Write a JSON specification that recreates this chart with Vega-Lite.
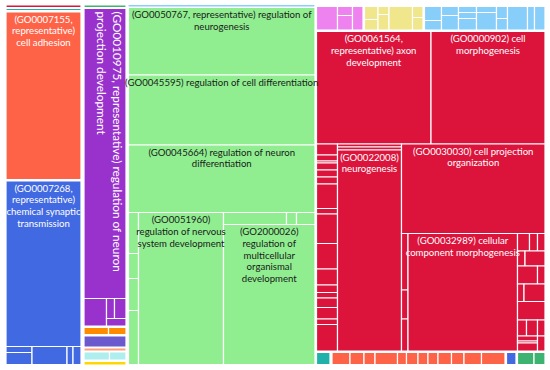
{
"$schema":"https://vega.github.io/schema/vega-lite/v6.json",
"width":550,"height":370,"padding":0,"autosize":"none",
"config":{"view":{"stroke":null}},
"data":{"values":[
{"c":"E","x0":6,"x1":81,"y0":5,"y1":7.5,"label":""},
{"c":"N","x0":6,"x1":81,"y0":8.5,"y1":10.5,"label":""},
{"c":"A","id":"GO0007155","x0":6,"x1":81,"y0":12,"y1":179.5,"label":"(GO0007155,\nrepresentative)\ncell adhesion"},
{"c":"B","id":"GO0007268","x0":6,"x1":81,"y0":181,"y1":346.5,"label":"(GO0007268,\nrepresentative)\nchemical synaptic\ntransmission"},
{"c":"B","x0":6,"x1":32,"y0":346.5,"y1":352.5,"label":""},
{"c":"B","x0":6,"x1":32,"y0":352.5,"y1":364.5,"label":""},
{"c":"B","x0":32,"x1":67,"y0":346.5,"y1":364.5,"label":""},
{"c":"B","x0":67,"x1":73,"y0":346.5,"y1":364.5,"label":""},
{"c":"B","x0":73,"x1":81,"y0":346.5,"y1":364.5,"label":""},
{"c":"O","x0":84,"x1":126,"y0":5,"y1":7.5,"label":""},
{"c":"C","id":"GO0010975","x0":84,"x1":126,"y0":8.5,"y1":298.5,"label":""},
{"c":"C","x0":84,"x1":106.5,"y0":298.5,"y1":326,"label":""},
{"c":"C","x0":106.5,"x1":114.5,"y0":298.5,"y1":318.5,"label":""},
{"c":"C","x0":114.5,"x1":126,"y0":298.5,"y1":318.5,"label":""},
{"c":"C","x0":106.5,"x1":126,"y0":318.5,"y1":326,"label":""},
{"c":"I","x0":84,"x1":108.5,"y0":327.5,"y1":334.5,"label":""},
{"c":"I","x0":108.5,"x1":126,"y0":327.5,"y1":334.5,"label":""},
{"c":"J","x0":84,"x1":126,"y0":336,"y1":347,"label":""},
{"c":"K","x0":84,"x1":126,"y0":348,"y1":351,"label":""},
{"c":"L","x0":84,"x1":109.5,"y0":352,"y1":360,"label":""},
{"c":"L","x0":109.5,"x1":126,"y0":352,"y1":360,"label":""},
{"c":"M","x0":84,"x1":126,"y0":361.5,"y1":365,"label":""},
{"c":"H","x0":128,"x1":315,"y0":4.5,"y1":7,"label":""},
{"c":"D","id":"GO0050767","x0":128.5,"x1":315,"y0":7.5,"y1":75,"label":"(GO0050767, representative) regulation of\nneurogenesis"},
{"c":"D","id":"GO0045595","x0":128.5,"x1":315,"y0":75,"y1":145,"label":"(GO0045595) regulation of cell differentiation"},
{"c":"D","id":"GO0045664","x0":128.5,"x1":315,"y0":145,"y1":212.5,"label":"(GO0045664) regulation of neuron\ndifferentiation"},
{"c":"D","x0":128.5,"x1":138.5,"y0":212.5,"y1":253.5,"label":""},
{"c":"D","x0":128.5,"x1":138.5,"y0":253.5,"y1":278.5,"label":""},
{"c":"D","x0":128.5,"x1":138.5,"y0":278.5,"y1":310.5,"label":""},
{"c":"D","x0":128.5,"x1":138.5,"y0":310.5,"y1":364.5,"label":""},
{"c":"D","id":"GO0051960","x0":138.5,"x1":223.5,"y0":212.5,"y1":364.5,"label":"(GO0051960)\nregulation of nervous\nsystem development"},
{"c":"D","x0":223.5,"x1":286.5,"y0":212.5,"y1":224.5,"label":""},
{"c":"D","x0":286.5,"x1":296.5,"y0":212.5,"y1":224.5,"label":""},
{"c":"D","x0":296.5,"x1":315,"y0":212.5,"y1":224.5,"label":""},
{"c":"D","id":"GO2000026","x0":223.5,"x1":315,"y0":224.5,"y1":364.5,"label":"(GO2000026)\nregulation of\nmulticellular\norganismal\ndevelopment"},
{"c":"F","x0":316.5,"x1":337.5,"y0":6.5,"y1":30,"label":""},
{"c":"F","x0":337.5,"x1":352.5,"y0":6.5,"y1":15.5,"label":""},
{"c":"F","x0":337.5,"x1":352.5,"y0":15.5,"y1":30,"label":""},
{"c":"F","x0":352.5,"x1":363,"y0":6.5,"y1":30,"label":""},
{"c":"G","x0":364.5,"x1":378,"y0":6.5,"y1":19.5,"label":""},
{"c":"G","x0":364.5,"x1":378,"y0":19.5,"y1":30,"label":""},
{"c":"G","x0":378,"x1":389,"y0":6.5,"y1":14.5,"label":""},
{"c":"G","x0":378,"x1":389,"y0":14.5,"y1":30,"label":""},
{"c":"G","x0":389,"x1":412.5,"y0":6.5,"y1":30,"label":""},
{"c":"G","x0":412.5,"x1":423,"y0":6.5,"y1":17.5,"label":""},
{"c":"G","x0":412.5,"x1":423,"y0":17.5,"y1":30,"label":""},
{"c":"H","x0":424.5,"x1":441.5,"y0":6.5,"y1":20.5,"label":""},
{"c":"H","x0":424.5,"x1":441.5,"y0":20.5,"y1":30,"label":""},
{"c":"H","x0":441.5,"x1":458.5,"y0":6.5,"y1":15.5,"label":""},
{"c":"H","x0":441.5,"x1":458.5,"y0":15.5,"y1":30,"label":""},
{"c":"H","x0":458.5,"x1":476.5,"y0":6.5,"y1":12.5,"label":""},
{"c":"H","x0":458.5,"x1":476.5,"y0":12.5,"y1":18.5,"label":""},
{"c":"H","x0":458.5,"x1":476.5,"y0":18.5,"y1":30,"label":""},
{"c":"H","x0":476.5,"x1":496.5,"y0":6.5,"y1":12.5,"label":""},
{"c":"H","x0":476.5,"x1":496.5,"y0":12.5,"y1":30,"label":""},
{"c":"H","x0":496.5,"x1":507.5,"y0":6.5,"y1":18.5,"label":""},
{"c":"H","x0":496.5,"x1":507.5,"y0":18.5,"y1":30,"label":""},
{"c":"H","x0":507.5,"x1":527.5,"y0":6.5,"y1":30,"label":""},
{"c":"H","x0":527.5,"x1":534.5,"y0":6.5,"y1":30,"label":""},
{"c":"H","x0":534.5,"x1":545,"y0":6.5,"y1":30,"label":""},
{"c":"E","id":"GO0061564","x0":316.5,"x1":431,"y0":31.5,"y1":144,"label":"(GO0061564,\nrepresentative) axon\ndevelopment"},
{"c":"E","id":"GO0000902","x0":431,"x1":545,"y0":31.5,"y1":144,"label":"(GO0000902) cell\nmorphogenesis"},
{"c":"E","x0":316.5,"x1":337.5,"y0":144,"y1":155,"label":""},
{"c":"E","x0":316.5,"x1":337.5,"y0":155,"y1":161,"label":""},
{"c":"E","x0":316.5,"x1":337.5,"y0":161,"y1":163,"label":""},
{"c":"E","x0":316.5,"x1":337.5,"y0":163,"y1":170,"label":""},
{"c":"E","x0":316.5,"x1":337.5,"y0":170,"y1":177,"label":""},
{"c":"E","x0":316.5,"x1":337.5,"y0":177,"y1":184,"label":""},
{"c":"E","x0":316.5,"x1":337.5,"y0":184,"y1":208.5,"label":""},
{"c":"E","x0":316.5,"x1":337.5,"y0":208.5,"y1":214,"label":""},
{"c":"E","x0":316.5,"x1":337.5,"y0":214,"y1":243.5,"label":""},
{"c":"E","x0":316.5,"x1":337.5,"y0":243.5,"y1":269,"label":""},
{"c":"E","x0":316.5,"x1":337.5,"y0":269,"y1":285,"label":""},
{"c":"E","x0":316.5,"x1":337.5,"y0":285,"y1":292.5,"label":""},
{"c":"E","x0":316.5,"x1":337.5,"y0":292.5,"y1":298,"label":""},
{"c":"E","x0":316.5,"x1":337.5,"y0":298,"y1":307.5,"label":""},
{"c":"E","x0":316.5,"x1":337.5,"y0":307.5,"y1":319,"label":""},
{"c":"E","x0":316.5,"x1":337.5,"y0":319,"y1":324.5,"label":""},
{"c":"E","x0":316.5,"x1":337.5,"y0":324.5,"y1":351,"label":""},
{"c":"E","x0":337.5,"x1":401.5,"y0":144,"y1":147,"label":""},
{"c":"E","x0":337.5,"x1":401.5,"y0":147,"y1":150,"label":""},
{"c":"E","id":"GO0022008","x0":337.5,"x1":401.5,"y0":150,"y1":351,"label":"(GO0022008)\nneurogenesis"},
{"c":"E","id":"GO0030030","x0":401.5,"x1":545,"y0":144,"y1":233.5,"label":"(GO0030030) cell projection\norganization"},
{"c":"E","x0":401.5,"x1":408,"y0":233.5,"y1":290,"label":""},
{"c":"E","x0":401.5,"x1":408,"y0":290,"y1":319,"label":""},
{"c":"E","x0":401.5,"x1":408,"y0":319,"y1":351,"label":""},
{"c":"E","id":"GO0032989","x0":408,"x1":517.5,"y0":233.5,"y1":351,"label":"(GO0032989) cellular\ncomponent morphogenesis"},
{"c":"E","x0":517.5,"x1":529.5,"y0":233.5,"y1":251,"label":""},
{"c":"E","x0":529.5,"x1":537.5,"y0":233.5,"y1":251,"label":""},
{"c":"E","x0":537.5,"x1":545,"y0":233.5,"y1":251,"label":""},
{"c":"E","x0":517.5,"x1":525,"y0":251,"y1":266,"label":""},
{"c":"E","x0":525,"x1":545,"y0":251,"y1":266,"label":""},
{"c":"E","x0":517.5,"x1":537.5,"y0":266,"y1":284,"label":""},
{"c":"E","x0":537.5,"x1":545,"y0":266,"y1":284,"label":""},
{"c":"E","x0":517.5,"x1":524,"y0":284,"y1":301.5,"label":""},
{"c":"E","x0":524,"x1":545,"y0":284,"y1":301.5,"label":""},
{"c":"E","x0":517.5,"x1":545,"y0":301.5,"y1":320,"label":""},
{"c":"E","x0":517.5,"x1":526.5,"y0":320,"y1":336,"label":""},
{"c":"E","x0":526.5,"x1":537.5,"y0":320,"y1":336,"label":""},
{"c":"E","x0":537.5,"x1":545,"y0":320,"y1":336,"label":""},
{"c":"E","x0":517.5,"x1":537.5,"y0":336,"y1":341,"label":""},
{"c":"E","x0":517.5,"x1":537.5,"y0":341,"y1":343,"label":""},
{"c":"E","x0":517.5,"x1":537.5,"y0":343,"y1":351,"label":""},
{"c":"E","x0":537.5,"x1":545,"y0":336,"y1":351,"label":""},
{"c":"N","x0":316.5,"x1":330,"y0":352.5,"y1":364.5,"label":""},
{"c":"A","x0":332,"x1":350,"y0":352.5,"y1":364.5,"label":""},
{"c":"A","x0":350,"x1":364,"y0":352.5,"y1":364.5,"label":""},
{"c":"A","x0":364,"x1":375,"y0":352.5,"y1":364.5,"label":""},
{"c":"A","x0":375,"x1":397.5,"y0":352.5,"y1":364.5,"label":""},
{"c":"A","x0":397.5,"x1":406.5,"y0":352.5,"y1":364.5,"label":""},
{"c":"A","x0":406.5,"x1":418,"y0":352.5,"y1":364.5,"label":""},
{"c":"A","x0":418,"x1":428,"y0":352.5,"y1":364.5,"label":""},
{"c":"A","x0":428,"x1":438,"y0":352.5,"y1":364.5,"label":""},
{"c":"A","x0":438,"x1":451.5,"y0":352.5,"y1":364.5,"label":""},
{"c":"A","x0":451.5,"x1":464,"y0":352.5,"y1":364.5,"label":""},
{"c":"A","x0":464,"x1":481.5,"y0":352.5,"y1":364.5,"label":""},
{"c":"A","x0":481.5,"x1":505,"y0":352.5,"y1":364.5,"label":""},
{"c":"B","x0":506.5,"x1":516,"y0":352.5,"y1":364.5,"label":""},
{"c":"O","x0":517.5,"x1":534,"y0":352.5,"y1":364.5,"label":""},
{"c":"O","x0":534,"x1":545,"y0":352.5,"y1":364.5,"label":""}
]},
"layer":[
{"mark":{"type":"rect","stroke":"white","strokeWidth":1.2},
 "encoding":{
  "x":{"field":"x0","type":"quantitative","scale":{"domain":[0,550],"nice":false,"zero":false},"axis":null},
  "x2":{"field":"x1"},
  "y":{"field":"y0","type":"quantitative","scale":{"domain":[0,370],"nice":false,"zero":false,"reverse":true},"axis":null},
  "y2":{"field":"y1"},
  "color":{"field":"c","type":"nominal","legend":null,"scale":{
    "domain":["A","B","C","D","E","F","G","H","I","J","K","L","M","N","O"],
    "range":["#FF6347","#4169E1","#9932CC","#90EE90","#DC143C","#EE82EE","#F0E68C","#87CEFA","#FF8C00","#6A5ACD","#FFA07A","#AFEEEE","#FFD700","#20B2AA","#3CB371"]}}
 }},
{"transform":[{"filter":"datum.label != ''"},{"calculate":"(datum.x0+datum.x1)/2","as":"xm"}],
 "mark":{"type":"text","baseline":"top","align":"center","dy":2.5,"fontSize":9.6,"lineHeight":11.8,"font":"Lato, sans-serif","lineBreak":"\n"},
 "encoding":{
  "x":{"field":"xm","type":"quantitative","scale":{"domain":[0,550]}},
  "y":{"field":"y0","type":"quantitative"},
  "text":{"field":"label"},
  "color":{"condition":{"test":"datum.c == 'D'","value":"#1a1a1a"},"value":"white"}
 }},
{"transform":[{"filter":"datum.id == 'GO0010975'"},{"calculate":"datum.x1 - 4","as":"xa"},{"calculate":"datum.y0 + 3","as":"ya"}],
 "mark":{"type":"text","angle":90,"baseline":"top","align":"left","fontSize":11.8,"lineHeight":16,"font":"Lato, sans-serif","lineBreak":"\n","color":"white"},
 "encoding":{
  "x":{"field":"xa","type":"quantitative"},
  "y":{"field":"ya","type":"quantitative"},
  "text":{"value":"(GO0010975, representative) regulation of neuron\nprojection development"}
 }}
]
}
